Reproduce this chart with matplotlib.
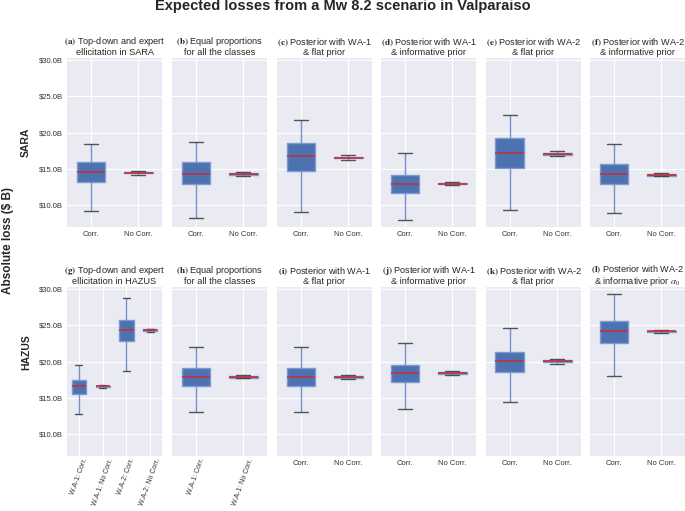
import matplotlib
matplotlib.use("Agg")
import matplotlib.pyplot as plt
import seaborn as sns
from matplotlib.ticker import FuncFormatter

# Box statistics (in billions of $): one entry per box
sara_labels = [["Corr.", "No Corr."]] * 6
sara_low = [[9.21, 14.21], [8.29, 14.03], [9.03, 16.20], [7.96, 12.78], [9.31, 16.76], [8.98, 13.98]]
sara_q1 = [[13.19, 14.38], [12.87, 14.20], [14.68, 16.45], [11.67, 12.88], [15.19, 16.98], [12.87, 14.10]]
sara_med = [[14.58, 14.49], [14.35, 14.30], [16.76, 16.57], [12.96, 12.96], [17.27, 17.08], [14.31, 14.21]]
sara_q3 = [[16.02, 14.60], [16.02, 14.42], [18.52, 16.70], [14.17, 13.05], [19.21, 17.20], [15.65, 14.30]]
sara_high = [[18.47, 14.72], [18.66, 14.58], [21.76, 16.94], [17.22, 13.15], [22.50, 17.41], [18.47, 14.40]]

hazus_labels = [["W.A-1: Corr.", "W.A-1: No Corr.", "W.A-2: Corr.", "W.A-2: No Corr."],
                ["W.A-1: Corr.", "W.A-1: No Corr."],
                ["Corr.", "No Corr."], ["Corr.", "No Corr."], ["Corr.", "No Corr."], ["Corr.", "No Corr."]]
hazus_low = [[12.80, 16.39, 18.74, 24.11], [13.08, 17.72], [13.08, 17.68], [13.49, 18.14], [14.51, 19.70], [18.00, 23.98]]
hazus_q1 = [[15.52, 16.50, 22.87, 24.22], [16.62, 17.82], [16.62, 17.80], [17.17, 18.32], [18.60, 19.95], [22.60, 24.12]]
hazus_med = [[16.62, 16.62, 24.39, 24.34], [17.95, 17.95], [17.95, 17.91], [18.46, 18.46], [20.11, 20.11], [24.25, 24.21]]
hazus_q3 = [[17.49, 16.70, 25.77, 24.45], [19.10, 18.05], [19.10, 18.02], [19.61, 18.58], [21.40, 20.22], [25.68, 24.30]]
hazus_high = [[19.61, 16.76, 28.85, 24.57], [22.09, 18.14], [22.09, 18.14], [22.60, 18.69], [24.62, 20.34], [29.31, 24.39]]

sara_titles = [("a", "Top-down and expert\nellicitation in SARA"),
               ("b", "Equal proportions\nfor all the classes"),
               ("c", "Posterior with WA-1\n& flat prior"),
               ("d", "Posterior with WA-1\n& informative prior"),
               ("e", "Posterior with WA-2\n& flat prior"),
               ("f", "Posterior with WA-2\n& informative prior")]
hazus_titles = [("g", "Top-down and expert\nellicitation in HAZUS"),
                ("h", "Equal proportions\nfor all the classes"),
                ("i", "Posterior with WA-1\n& flat prior"),
                ("j", "Posterior with WA-1\n& informative prior"),
                ("k", "Posterior with WA-2\n& flat prior"),
                ("l", r"Posterior with WA-2" + "\n" + r"& informative prior $\alpha_0$")]

sns.set_style("darkgrid")
plt.rcParams["font.family"] = ["Liberation Sans", "DejaVu Sans"]
plt.rcParams["mathtext.fontset"] = "stix"

fig = plt.figure(figsize=(6.85, 5.11), dpi=100)
W, H = 685.0, 511.0
lefts = [67, 172, 277, 381, 486, 590]
pw, ph = 95, 169
row_tops = [58, 287]


def make_stats(low, q1, med, q3, high):
    return [dict(whislo=a, q1=b, med=c, q3=d, whishi=e, fliers=[])
            for a, b, c, d, e in zip(low, q1, med, q3, high)]


def draw_panel(ax, stats, labels, letter, text, rotate):
    n = len(stats)
    ax.bxp(stats, positions=range(1, n + 1), widths=0.6, patch_artist=True,
           showfliers=False,
           boxprops=dict(facecolor="#4c72b0", edgecolor="#7e9ad2", linewidth=1),
           whiskerprops=dict(color="#7391cc", linewidth=1),
           capprops=dict(color="#3a3a3a", linewidth=1, alpha=0.85),
           medianprops=dict(color="#c23040", linewidth=1.2))
    ax.set_xlim(0.5, n + 0.5)
    ax.set_ylim(7.0, 30.3)
    ax.set_yticks([10, 15, 20, 25, 30])
    ax.yaxis.set_major_formatter(FuncFormatter(lambda v, p: "$%.1fB" % v))
    ax.tick_params(axis="both", labelsize=5.5, length=0, pad=3, colors="#333333")
    ax.set_xticks(range(1, n + 1))
    if rotate:
        ax.set_xticklabels(labels, rotation=70, ha="center", fontsize=5.0)
        ax.tick_params(axis="x", pad=1)
    else:
        ax.set_xticklabels(labels)
    ax.set_title(r"$\mathbf{(%s)}$ " % letter + text, fontsize=6.6, pad=2, linespacing=1.0)
    for s in ax.spines.values():
        s.set_visible(False)


rows = [(sara_labels, sara_low, sara_q1, sara_med, sara_q3, sara_high, sara_titles),
        (hazus_labels, hazus_low, hazus_q1, hazus_med, hazus_q3, hazus_high, hazus_titles)]

for r, (labs, lo, q1, md, q3, hi, titles) in enumerate(rows):
    top = row_tops[r]
    for c in range(6):
        ax = fig.add_axes([lefts[c] / W, 1 - (top + ph) / H, pw / W, ph / H])
        stats = make_stats(lo[c], q1[c], md[c], q3[c], hi[c])
        rotate = (r == 1 and c < 2)
        draw_panel(ax, stats, labs[c], titles[c][0], titles[c][1], rotate)
        if c > 0:
            ax.set_yticklabels([])

fig.suptitle("Expected losses from a Mw 8.2 scenario in Valparaiso",
             fontsize=10.5, fontweight="bold", y=1 - 6 / H, va="center")
fig.text(8 / W, 1 - 240 / H, "Absolute loss ($ B)", rotation=90, fontsize=8.5,
         fontweight="bold", ha="center", va="center")
fig.text(26 / W, 1 - 142 / H, "SARA", rotation=90, fontsize=7.5,
         fontweight="bold", ha="center", va="center")
fig.text(26 / W, 1 - 352 / H, "HAZUS", rotation=90, fontsize=7.5,
         fontweight="bold", ha="center", va="center")

fig.savefig("out.png", dpi=100)
